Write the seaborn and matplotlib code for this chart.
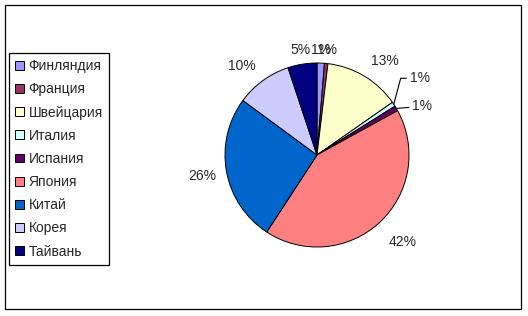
import numpy as np
import matplotlib
matplotlib.use("Agg")
import matplotlib.pyplot as plt
import seaborn as sns
from matplotlib.patches import Patch, Rectangle

countries = ["Финляндия", "Франция", "Швейцария", "Италия", "Испания",
             "Япония", "Китай", "Корея", "Тайвань"]
shares = [1.3, 0.6, 13.4, 0.8, 0.9, 42.2, 25.9, 9.8, 5.1]
colors = ["#9999FF", "#993366", "#FFFFCC", "#CCFFFF", "#660066",
          "#FF8080", "#0066CC", "#CCCCFF", "#000080"]

sns.set_theme(style="white")
plt.rcParams["font.family"] = ["Liberation Sans", "DejaVu Sans"]
palette = sns.color_palette(colors)

W, H = 528, 316
fig = plt.figure(figsize=(W / 100, H / 100), dpi=100)
fig.patch.set_facecolor("white")

# outer chart border
fig.patches.append(Rectangle((5 / W, 1 - 309 / H), 516 / W, 304 / H,
                             transform=fig.transFigure, fill=False,
                             edgecolor="black", linewidth=0.9))

cx, cy, r = 317, 155, 92
ax = fig.add_axes([(cx - r) / W, (H - cy - r) / H, 2 * r / W, 2 * r / H])
wedges, _ = ax.pie(shares, colors=palette, startangle=90, counterclock=False,
                   radius=1.0, wedgeprops=dict(edgecolor="black", linewidth=0.7))
ax.set_xlim(-1, 1)
ax.set_ylim(-1, 1)
ax.set_aspect("equal")
ax.axis("off")

total = sum(shares)
fs = 10
px = 0.72  # points per pixel
for i, (w, v) in enumerate(zip(wedges, shares)):
    mid = np.deg2rad((w.theta1 + w.theta2) / 2)
    ex, ey = np.cos(mid), np.sin(mid)
    lab = f"{v / total * 100:.0f}%"
    if countries[i] == "Италия":
        ax.annotate(lab, xy=(ex, ey), xytext=(16 * px, 26 * px), textcoords="offset points",
                    ha="left", va="center", fontsize=fs, annotation_clip=False,
                    arrowprops=dict(arrowstyle="-", color="black", lw=0.8,
                                    shrinkA=0, shrinkB=0,
                                    connectionstyle="angle,angleA=0,angleB=75,rad=0"))
        continue
    if countries[i] == "Испания":
        ax.annotate(lab, xy=(ex, ey), xytext=(16 * px, 2 * px), textcoords="offset points",
                    ha="left", va="center", fontsize=fs, annotation_clip=False,
                    arrowprops=dict(arrowstyle="-", color="black", lw=0.8,
                                    shrinkA=0, shrinkB=0))
        continue
    f = 1.1 + 0.04 * abs(ex * ey) * 2
    if abs(ex) < 0.3:
        ha = "center"
    else:
        ha = "left" if ex > 0 else "right"
    if abs(ey) < 0.3:
        va = "center"
    else:
        va = "bottom" if ey > 0 else "top"
    ax.annotate(lab, xy=(ex * f, ey * f), xytext=(0, -3 * px), textcoords="offset points",
                ha=ha, va=va, fontsize=fs, annotation_clip=False)

handles = [Patch(facecolor=c, edgecolor="black", linewidth=0.7) for c in palette]
leg = fig.legend(handles, countries, loc="upper left",
                 bbox_to_anchor=(9 / W, 1 - 53 / H), bbox_transform=fig.transFigure,
                 borderaxespad=0, fontsize=fs, frameon=True, fancybox=False,
                 handlelength=0.6, handleheight=0.6, handletextpad=0.35,
                 labelspacing=0.66, borderpad=0.45)
leg.get_frame().set_edgecolor("black")
leg.get_frame().set_linewidth(0.9)
leg.get_frame().set_alpha(1)

fig.savefig("out.png", dpi=100, facecolor="white")
